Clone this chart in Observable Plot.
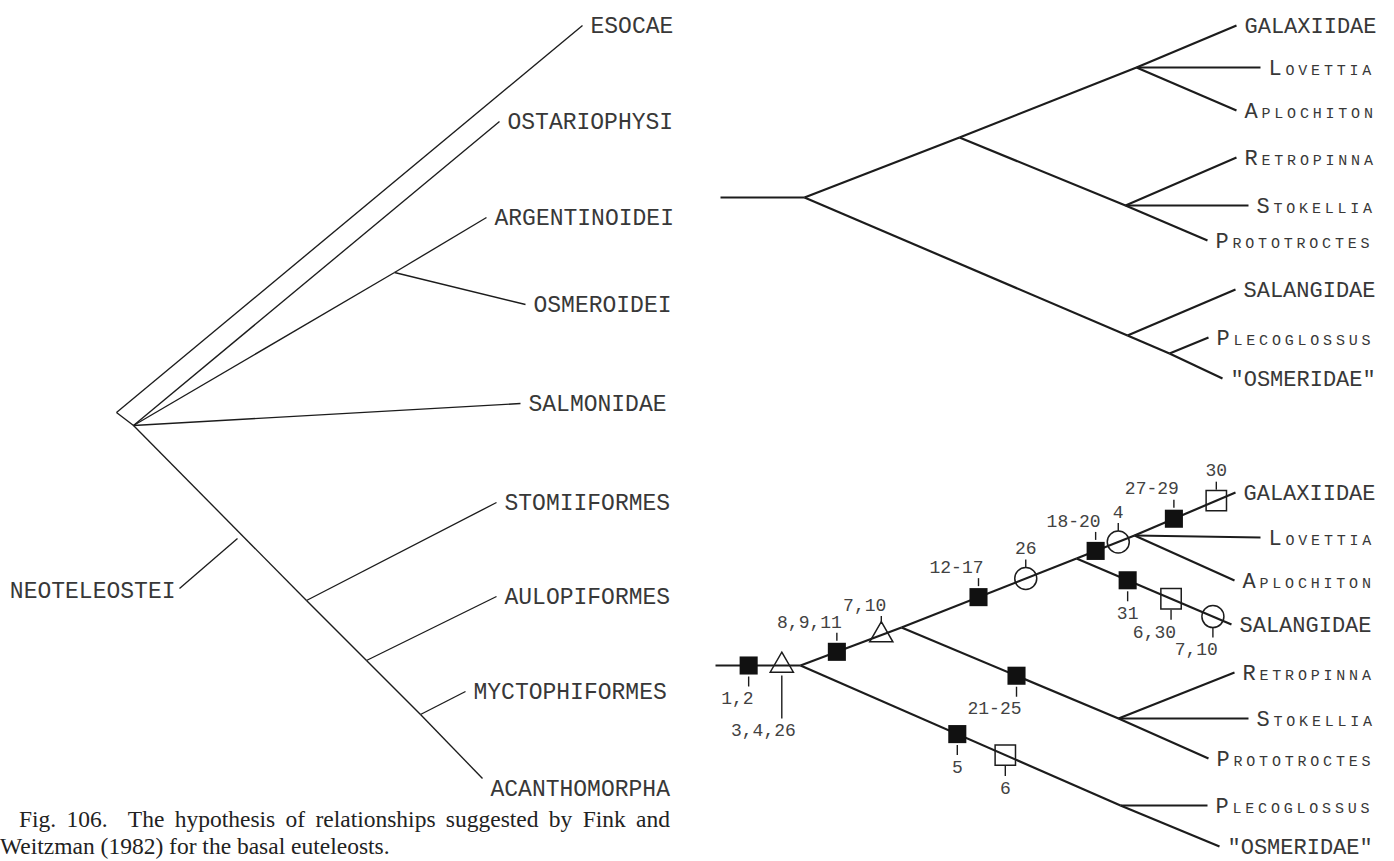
<!DOCTYPE html>
<html>
<head>
<meta charset="utf-8">
<script src="https://cdn.jsdelivr.net/npm/d3@7"></script>
<script src="https://cdn.jsdelivr.net/npm/@observablehq/plot@0.6"></script>
<style>
  html, body { margin: 0; padding: 0; background: #fff; }
  #wrap { position: relative; width: 1394px; height: 861px; overflow: hidden; }
  #caption { position: absolute; left: 0; top: 806px; width: 670px;
    font-family: "Liberation Serif", "Times New Roman", serif; font-size: 23.5px; line-height: 27px; color: #222; }
  #caption .l1 { text-indent: 19px; text-align: justify; text-align-last: justify; white-space: nowrap; }
  #caption .l2 { text-align: left; white-space: nowrap; }
</style>
</head>
<body>
<div id="wrap">
  <div id="chart"></div>
  <div id="caption">
    <div class="l1">Fig. 106.&nbsp; The hypothesis of relationships suggested by Fink and</div>
    <div class="l2">Weitzman (1982) for the basal euteleosts.</div>
  </div>
</div>
<script>
// ---------------- DATA ----------------
// Left cladogram: node ids, parent ids, horizontal and vertical placement
const leftId     = ["corner","root","ESOCAE","OSTARIOPHYSI","argnode","ARGENTINOIDEI","OSMEROIDEI","SALMONIDAE","n1","STOMIIFORMES","n2","AULOPIFORMES","n3","MYCTOPHIFORMES","ACANTHOMORPHA"];
const leftParent = [null,"corner","corner","root","root","argnode","argnode","root","root","n1","n1","n2","n2","n3","n3"];
const leftX      = [116,133,582,499,394,486,525,520,306,496,366,496,420,465,482];
const leftY      = [412,425,25,121,272,217,304,403,600,502,660,596,714,691,778];
// Clade annotation on the left cladogram
const cladeName  = ["NEOTELEOSTEI"];
const cladeLeadX = [179,237];
const cladeLeadY = [588,538];

// Top-right cladogram
const topId     = ["stub","root","b","c","GALAXIIDAE","Lovettia","Aplochiton","d","Retropinna","Stokellia","Prototroctes","e","SALANGIDAE","f","Plecoglossus","\"OSMERIDAE\""];
const topParent = [null,"stub","root","b","c","c","c","b","d","d","d","root","e","e","f","f"];
const topX      = [720,804,959,1136,1236,1260,1236,1125,1236,1248,1207,1127,1235,1169,1208,1222];
const topY      = [197,197,137,67,25,67,110,205,157,205,240,335,289,353,337,378];

// Bottom-right cladogram
const botId     = ["stub","root","g","h","c","GALAXIIDAE","Lovettia","Aplochiton","SALANGIDAE","d","Retropinna","Stokellia","Prototroctes","p","Plecoglossus","\"OSMERIDAE\""];
const botParent = [null,"stub","root","g","h","c","c","c","h","g","d","d","d","root","p","p"];
const botX      = [715,800,901,1076,1134,1235,1260,1234,1231,1118,1234,1248,1208,1120,1207,1219];
const botY      = [665,665,627,558,535,492,537,580,624,718,672,718,758,805,805,846];

// Characters mapped on the bottom-right cladogram
const charLabel  = ["1,2","3,4,26","8,9,11","7,10","12-17","26","18-20","4","27-29","30","31","6,30","7,10","21-25","5","6"];
const charBranch = ["root","root","g","g","h","h","c","c","GALAXIIDAE","GALAXIIDAE","SALANGIDAE","SALANGIDAE","SALANGIDAE","d","p","p"];
const charPos    = [0.39,0.78,0.36,0.80,0.44,0.71,0.33,0.72,0.39,0.81,0.33,0.61,0.88,0.53,0.49,0.64];
const charKind   = ["filled","triangle","filled","triangle","filled","circle","filled","circle","filled","open","filled","open","circle","filled","filled","open"];
const charSide   = ["below","below","above","above","above","above","above","above","above","above","below","below","below","below","below","below"];
const longLeader = ["3,4,26"];

// ---------------- BUILD ----------------
function buildTree(ids, parents, xs, ys) {
  const nodes = ids.map((id, i) => ({id, parent: parents[i], x: xs[i], y: ys[i]}));
  const byId = new Map(nodes.map(n => [n.id, n]));
  const edges = nodes.filter(n => n.parent).map(n => {
    const p = byId.get(n.parent);
    return {id: n.id, x1: p.x, y1: p.y, x2: n.x, y2: n.y};
  });
  const leaves = nodes.filter(n => n.id !== n.id.toLowerCase());
  return {nodes, edges, leaves};
}
const left = buildTree(leftId, leftParent, leftX, leftY);
const top_ = buildTree(topId, topParent, topX, topY);
const bot = buildTree(botId, botParent, botX, botY);

const chars = charLabel.map((label, i) => {
  const e = bot.edges.find(e => e.id === charBranch[i]);
  const t = charPos[i];
  return {label, kind: charKind[i], side: charSide[i], long: longLeader.includes(label) && charSide[i] === "below",
          x: e.x1 + t * (e.x2 - e.x1), y: e.y1 + t * (e.y2 - e.y1)};
});
const tick = d => d.long ? [d.y + 10, d.y + 53] : d.side === "above" ? [d.y - 11, d.y - 19] : [d.y + 11, d.y + 21];
const labY = d => d.long ? d.y + 65 : d.side === "above" ? d.y - 30 : d.y + 33;
const isShort = d => d.label.length <= 2;

const LETTER = "'Liberation Mono', 'DejaVu Sans Mono', monospace";
const INK = "#1c1c1c";
const TXT = "#383838";
const smallCaps = n => /[a-z]/.test(n.id);
const nudge = {ACANTHOMORPHA: 10};

const rightLeaves = [...top_.leaves, ...bot.leaves];

const chart = Plot.plot({
  width: 1394, height: 861,
  margin: 0,
  x: {domain: [0, 1394], range: [0, 1394], axis: null},
  y: {domain: [0, 861], range: [0, 861], axis: null},
  style: {background: "#fff", overflow: "visible"},
  marks: [
    // left tree
    Plot.link(left.edges, {x1: "x1", y1: "y1", x2: "x2", y2: "y2", stroke: INK, strokeWidth: 1.35}),
    Plot.link([0], {x1: () => cladeLeadX[0], y1: () => cladeLeadY[0], x2: () => cladeLeadX[1], y2: () => cladeLeadY[1], stroke: INK, strokeWidth: 1.35}),
    // right trees
    Plot.link(top_.edges, {x1: "x1", y1: "y1", x2: "x2", y2: "y2", stroke: INK, strokeWidth: 2.2}),
    Plot.link(bot.edges, {x1: "x1", y1: "y1", x2: "x2", y2: "y2", stroke: INK, strokeWidth: 2.2}),
    // character ticks
    Plot.link(chars, {x1: "x", x2: "x", y1: d => tick(d)[0], y2: d => tick(d)[1], stroke: INK, strokeWidth: 1.4}),
    // character symbols
    Plot.dot(chars.filter(d => d.kind === "filled"), {x: "x", y: "y", symbol: "square", r: 10.2, fill: "#111", stroke: "none"}),
    Plot.dot(chars.filter(d => d.kind === "open"), {x: "x", y: "y", symbol: "square", r: 11.5, fill: "none", stroke: INK, strokeWidth: 1.5}),
    Plot.dot(chars.filter(d => d.kind === "circle"), {x: "x", y: "y", symbol: "circle", r: 11, fill: "none", stroke: INK, strokeWidth: 1.5}),
    Plot.dot(chars.filter(d => d.kind === "triangle"), {x: "x", y: "y", symbol: "triangle", r: 8.6, fill: "none", stroke: INK, strokeWidth: 1.5}),
    // text: left leaf labels (0)
    Plot.text(left.leaves, {x: "x", y: d => d.y + (nudge[d.id] || 0), text: "id", dx: 8, textAnchor: "start", lineAnchor: "middle",
      fontFamily: LETTER, fontSize: 23, fill: TXT}),
    // clade label (1)
    Plot.text(cladeName, {x: () => cladeLeadX[0], y: () => cladeLeadY[0] + 2, text: d => d, dx: -4, textAnchor: "end", lineAnchor: "middle",
      fontFamily: LETTER, fontSize: 23, fill: TXT}),
    // right leaf labels, capitals (2)
    Plot.text(rightLeaves.filter(n => !smallCaps(n)), {x: "x", y: "y", text: "id", dx: 8, textAnchor: "start", lineAnchor: "middle",
      fontFamily: LETTER, fontSize: 22, fill: TXT}),
    // right leaf labels, small capitals (3)
    Plot.text(rightLeaves.filter(smallCaps), {x: "x", y: "y", text: "id", dx: 8, textAnchor: "start", lineAnchor: "middle",
      fontFamily: LETTER, fontSize: 22, fontVariant: "small-caps", fill: TXT}),
    // character numbers (4,5)
    Plot.text(chars.filter(d => !isShort(d)), {x: d => d.x + (d.long ? 14 : 5), y: labY, text: "label", textAnchor: "end", lineAnchor: "middle",
      fontFamily: LETTER, fontSize: 18, fill: "#424242"}),
    Plot.text(chars.filter(isShort), {x: "x", y: labY, text: "label", textAnchor: "middle", lineAnchor: "middle",
      fontFamily: LETTER, fontSize: 18, fill: "#424242"})
  ]
});
document.getElementById("chart").appendChild(chart);

// letter spacing per text group (in mark order)
const spacing = ["0px", "0px", "0px", "3.8px", "0px", "0px"];
chart.querySelectorAll('g[aria-label="text"]').forEach((g, i) => { g.style.letterSpacing = spacing[i] || "0"; });
</script>
</body>
</html>
